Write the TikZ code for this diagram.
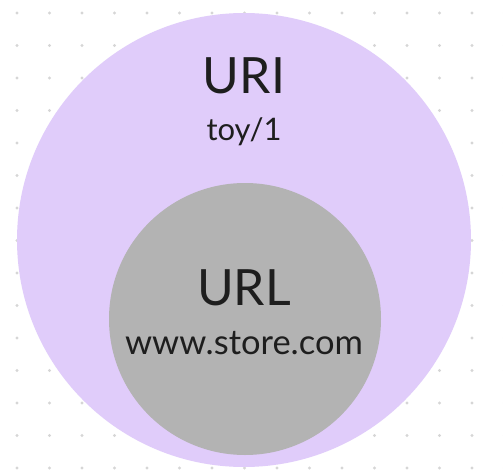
\documentclass[tikz,border=0pt]{standalone}
\usepackage{fontspec}
\setmainfont{Lato}
\usetikzlibrary{positioning}

\definecolor{lavender}{HTML}{E0CCFA}
\definecolor{urlgray}{HTML}{B3B3B3}
\definecolor{ink}{HTML}{1E1E1E}
\definecolor{dotgray}{HTML}{D6D6D6}

\begin{document}
\begin{tikzpicture}[
  x=1pt, y=-1pt,
  disc/.style={circle, inner sep=0pt, draw=none},
  title/.style={anchor=base, text=ink, font=\fontsize{50}{60}\selectfont},
  sub/.style={anchor=base, text=ink, font=\fontsize{31}{38}\selectfont}
]
\useasboundingbox (0,0) rectangle (503,476);
\clip (0,0) rectangle (503,476);
\fill[white] (0,0) rectangle (503,476);

% dotted grid
\foreach \i in {0,...,15}
  \foreach \j in {0,...,14}
    \fill[dotgray] (17+32.5*\i, 13+32.5*\j) circle (1.7pt);

\node (uri) [disc, fill=lavender, minimum size=454pt] at (244,240) {};
\node (url) [disc, fill=urlgray, minimum size=272pt] at (245,319) {};

\node (urititle) [title] at (244,93.3) {URI};
\node (uripath)  [sub] at (244,140.7) {toy/1};
\node (urltitle) [title] at (244,305.7) {URL};
\node (urlhost)  [sub, font=\fontsize{34.5}{40}\selectfont] at (244,354) {www.store.com};
\end{tikzpicture}
\end{document}
